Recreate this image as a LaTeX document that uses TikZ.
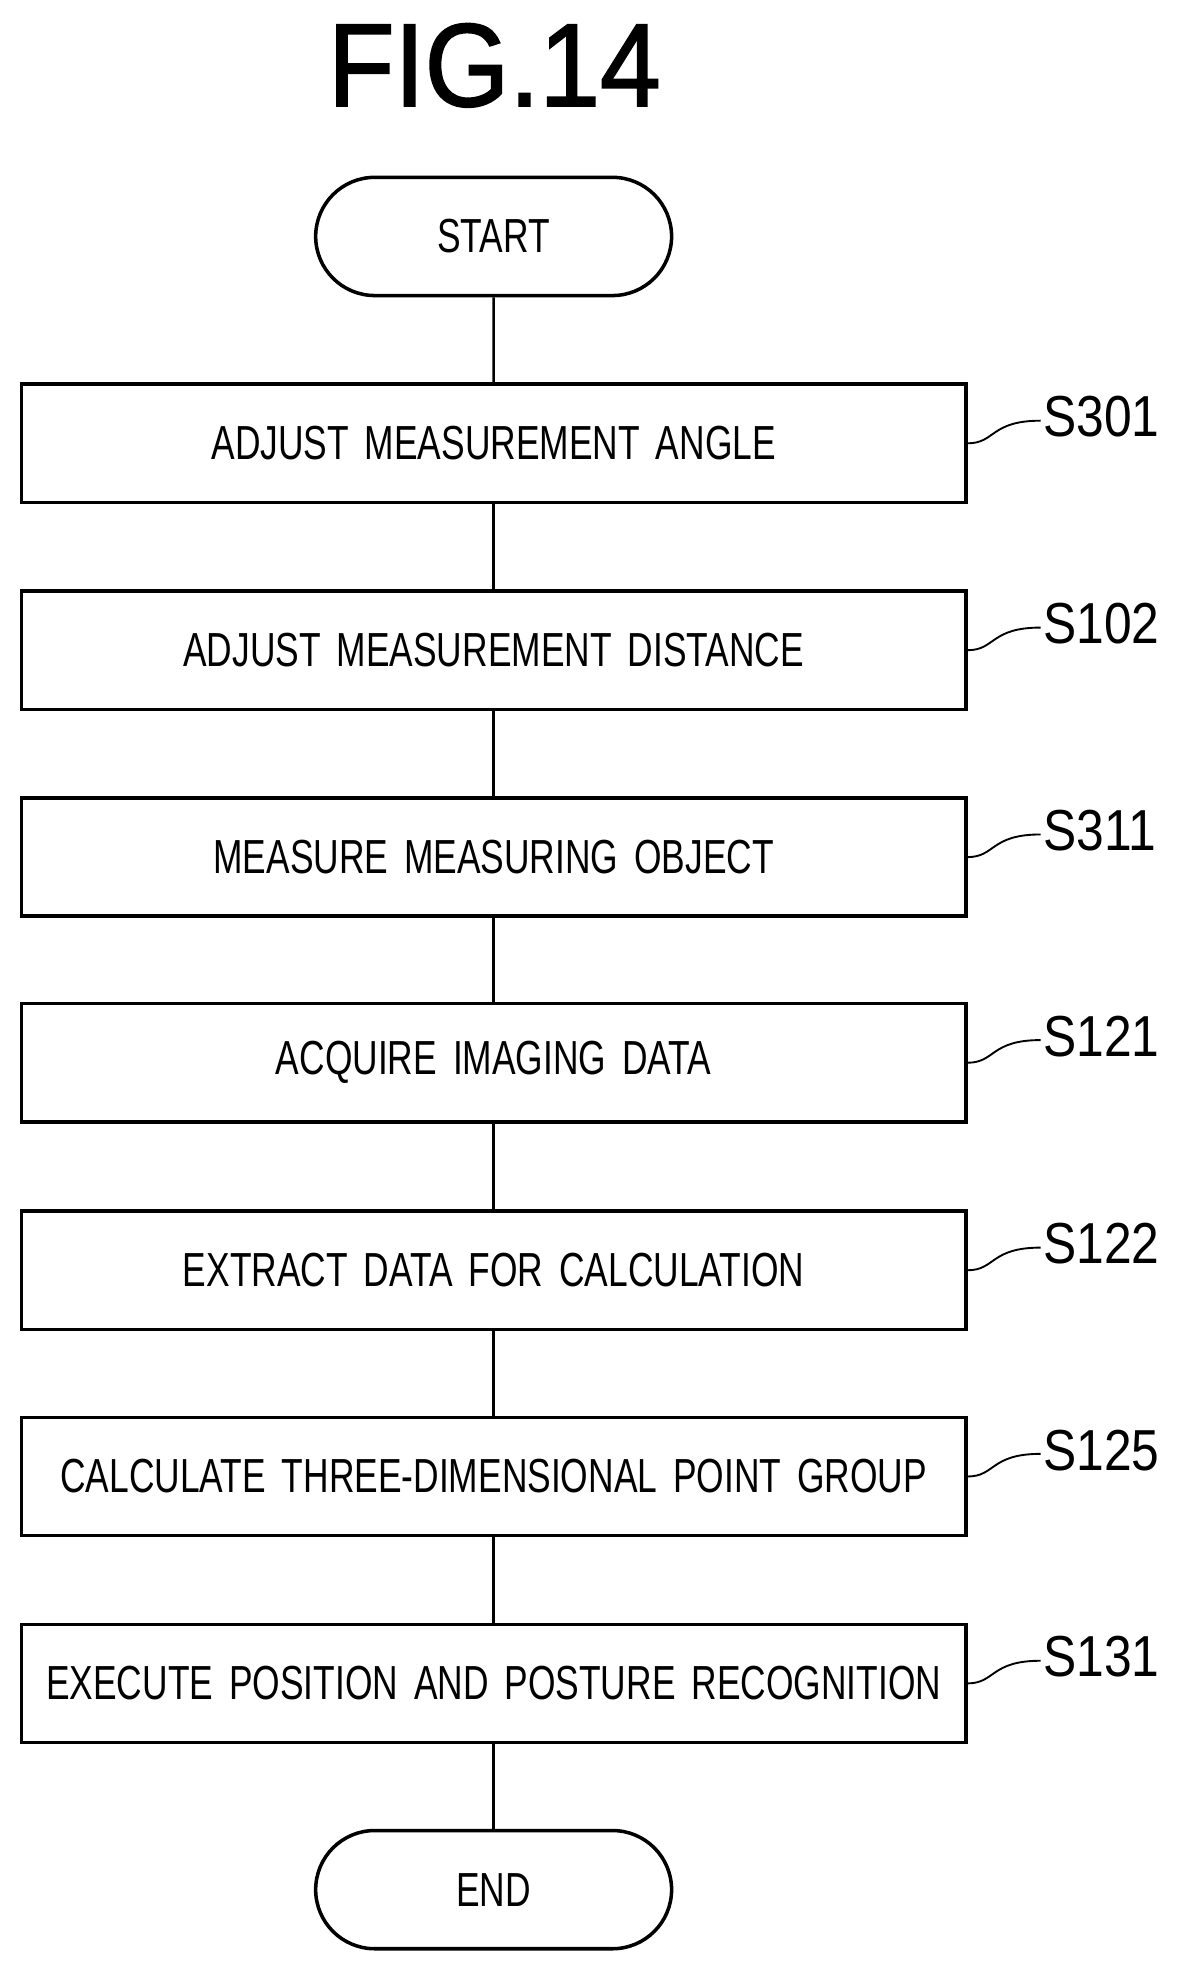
\documentclass[tikz,border=0pt]{standalone}
\usepackage{fontspec}
\setmainfont{Liberation Sans}[FakeStretch=0.74]
\usetikzlibrary{shapes.misc}
\begin{document}
\begin{tikzpicture}[x=1pt,y=-1pt,
  box/.style={draw,line width=2.8pt,text width=745pt,minimum height=94pt,inner sep=3pt,align=center,font=\fontsize{38}{40}\selectfont},
  term/.style={draw,line width=2.8pt,rounded rectangle,minimum width=283pt,minimum height=94pt,inner sep=0pt,font=\fontsize{38}{40}\selectfont},
  lab/.style={anchor=west,inner sep=0pt,font=\fontsize{46}{48}\selectfont\addfontfeature{FakeStretch=0.86}},
  conn/.style={line width=2pt}]
\useasboundingbox (0,0) rectangle (940,1568);
\node[font=\fontsize{94}{96}\selectfont\addfontfeature{FakeStretch=0.92,FakeBold=1.5}] (title) at (393,52) {FIG.14};
\node[term] (start) at (392.5,188) {START};
\node[box] (s1) at (392.5,352.5) {ADJUST MEASUREMENT ANGLE};
\node[box] (s2) at (392.5,517) {ADJUST MEASUREMENT DISTANCE};
\node[box] (s3) at (392.5,681.5) {MEASURE MEASURING OBJECT};
\node[box] (s4) at (392.5,845) {ACQUIRE IMAGING DATA};
\node[box] (s5) at (392.5,1010) {EXTRACT DATA FOR CALCULATION};
\node[box] (s6) at (392.5,1174) {CALCULATE THREE-DIMENSIONAL POINT GROUP};
\node[box] (s7) at (392.5,1338.5) {EXECUTE POSITION AND POSTURE RECOGNITION};
\node[term] (end) at (392.5,1502.5) {END};
\foreach \a/\b in {start/s1,s1/s2,s2/s3,s3/s4,s4/s5,s5/s6,s6/s7,s7/end}
  \draw[conn] (\a) -- (\b);
\foreach \n/\t in {s1/S301,s2/S102,s3/S311,s4/S121,s5/S122,s6/S125,s7/S131}{
  \node[lab] (l\n) at ([xshift=60pt,yshift=21pt]\n.east) {\t};
  \draw[line width=1.5pt] (\n.east) .. controls ([xshift=22pt]\n.east) and ([xshift=18pt,yshift=18pt]\n.east) .. ([xshift=58pt,yshift=18pt]\n.east);
}
\end{tikzpicture}
\end{document}
